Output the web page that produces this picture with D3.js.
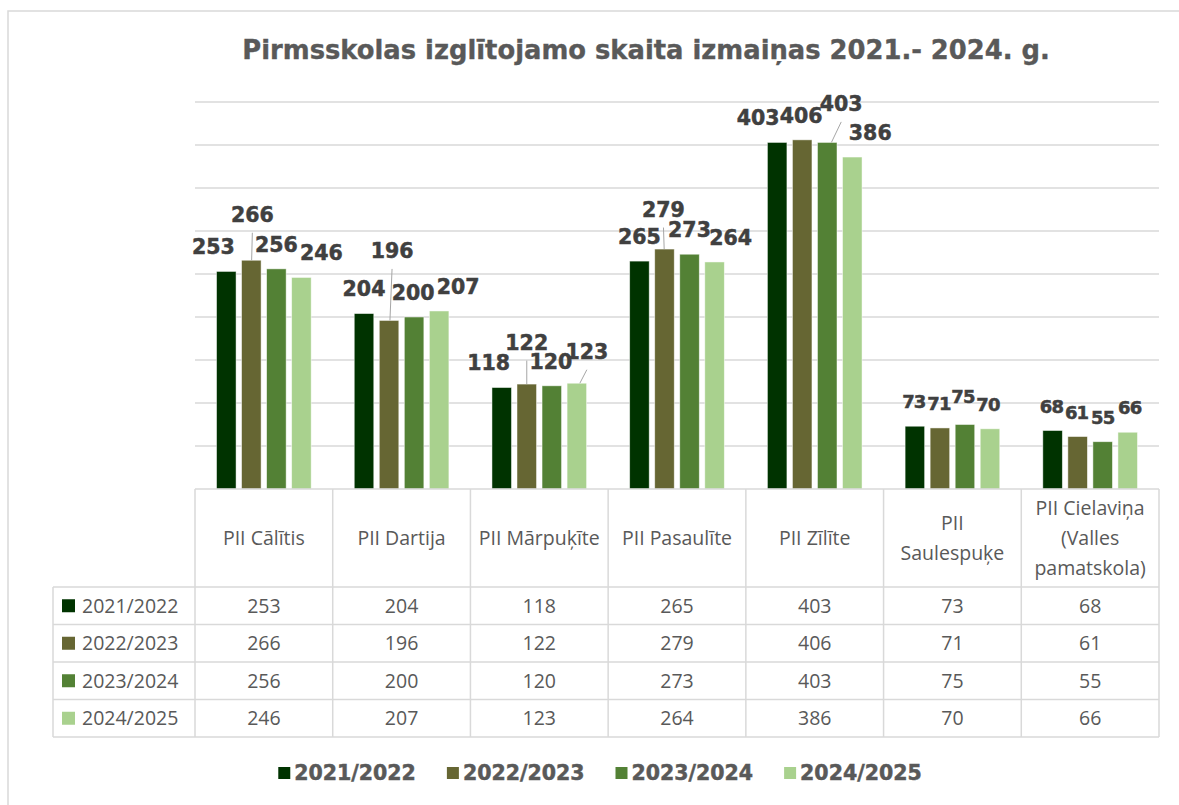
<!DOCTYPE html>
<html lang="lv">
<head>
<meta charset="utf-8">
<title>Pirmsskolas izglītojamo skaita izmaiņas</title>
<script src="https://cdn.jsdelivr.net/npm/d3@7"></script>
<style>
  html, body { margin: 0; padding: 0; background: #fff; }
  svg { display: block; }
</style>
</head>
<body>
<script>
// --- data -------------------------------------------------------------
const categories = ["PII Cālītis", "PII Dartija", "PII Mārpuķīte", "PII Pasaulīte",
  "PII Zīlīte", "PII Saulespuķe", "PII Cielaviņa (Valles pamatskola)"];
// category names as they wrap in the table header
const headerLines = [["PII Cālītis"], ["PII Dartija"], ["PII Mārpuķīte"], ["PII Pasaulīte"],
  ["PII Zīlīte"], ["PII", "Saulespuķe"], ["PII Cielaviņa", "(Valles", "pamatskola)"]];
const seriesNames = ["2021/2022", "2022/2023", "2023/2024", "2024/2025"];
const values2122 = [253, 204, 118, 265, 403, 73, 68];
const values2223 = [266, 196, 122, 279, 406, 71, 61];
const values2324 = [256, 200, 120, 273, 403, 75, 55];
const values2425 = [246, 207, 123, 264, 386, 70, 66];
const seriesValues = [values2122, values2223, values2324, values2425];
const title = "Pirmsskolas izglītojamo skaita izmaiņas 2021.- 2024. g.";

// --- look -------------------------------------------------------------
const colors = ["#003300", "#666633", "#538135", "#A9D18E"];
// hand-moved data labels (dx, dy in px) and which ones got a leader line
const labelNudge = [
  [[-13, 0], [0, 0], [-13, 0], [0, 0], [-19, 0], [-1, 0], [-1, 0]],
  [[1, -21], [3, -45], [0, -17], [-1, -15], [-1, 0], [-1, 0], [-1, 0]],
  [[0, 0], [-1, 0], [-1, 0], [0, 0], [14, -14], [-2, -3], [0, 0]],
  [[20, 0], [19, 0], [10, -7], [16, 0], [18, 0], [-2, 0], [2, 0]]
];
const leaders = [[], [0, 1, 2, 3], [4], [2]];

const W = 1179, H = 805;
const plot = { left: 195, right: 1159, top: 102, bottom: 489 };
const headerBottom = 587, rowH = 37.5, tableLeft = 53;
const gridColor = "#D9D9D9";
const textGray = "#595959";
const heavy = "'DejaVu Sans', sans-serif";
const body = "'Open Sans', 'Noto Sans', sans-serif";

const svg = d3.select("body").append("svg")
  .attr("width", W).attr("height", H);

// chart area frame
svg.append("rect")
  .attr("x", 8).attr("y", 11).attr("width", W + 20).attr("height", H + 20)
  .attr("fill", "none").attr("stroke", gridColor).attr("stroke-width", 1.5);

// title, fitted to the width it has in the original
const t = svg.append("text")
  .attr("x", 646).attr("y", 59)
  .attr("text-anchor", "middle")
  .attr("font-family", heavy).attr("font-weight", "bold")
  .attr("font-size", 24).attr("fill", textGray)
  .attr("stroke", textGray).attr("stroke-width", 0.35)
  .text(title);
const tl = t.node().getComputedTextLength();
t.attr("font-size", 24 * 808 / tl);

// --- scales -------------------------------------------------------------
const x = d3.scaleBand().domain(categories).range([plot.left, plot.right]);
const xs = d3.scaleBand().domain(seriesNames).range([0, x.bandwidth()])
  .paddingInner(0.22).paddingOuter(0.86);
const y = d3.scaleLinear().domain([0, 450]).range([plot.bottom, plot.top]);

// gridlines
svg.append("g")
  .selectAll("line")
  .data(y.ticks(9).filter(d => d > 0))
  .join("line")
  .attr("x1", plot.left).attr("x2", plot.right)
  .attr("y1", d => y(d)).attr("y2", d => y(d))
  .attr("stroke", gridColor).attr("stroke-width", 1.5);

// bars
const rows = seriesNames.map((s, i) => categories.map((c, j) => ({
  series: s, si: i, cat: c, ci: j, value: seriesValues[i][j]
})));
const flat = rows.flat();

svg.append("g")
  .selectAll("rect")
  .data(flat)
  .join("rect")
  .attr("x", d => x(d.cat) + xs(d.series))
  .attr("y", d => y(d.value))
  .attr("width", xs.bandwidth())
  .attr("height", d => y(0) - y(d.value))
  .attr("fill", d => colors[d.si])
  .attr("stroke", "#ffffff").attr("stroke-opacity", 0.6).attr("stroke-width", 0.8);

// data labels
const cx = d => x(d.cat) + xs(d.series) + xs.bandwidth() / 2;
const ly = d => y(d.value) - 24.5 + labelNudge[d.si][d.ci][1];

svg.append("g")
  .selectAll("line")
  .data(flat.filter(d => leaders[d.si].includes(d.ci)))
  .join("line")
  .attr("x1", d => cx(d) + labelNudge[d.si][d.ci][0] * 0.3)
  .attr("y1", d => y(d.value))
  .attr("x2", d => cx(d) + labelNudge[d.si][d.ci][0])
  .attr("y2", d => ly(d) + 18)
  .attr("stroke", "#A6A6A6").attr("stroke-width", 1);

svg.append("g")
  .attr("font-family", heavy).attr("font-weight", "bold")
  .attr("fill", "#404040")
  .attr("stroke", "#404040").attr("stroke-width", 0.5)
  .attr("text-anchor", "middle")
  .selectAll("text")
  .data(flat)
  .join("text")
  .attr("font-size", d => d.value < 100 ? 18 : 20.5)
  .attr("letter-spacing", d => d.value < 100 ? -0.8 : 0)
  .attr("x", d => cx(d) + labelNudge[d.si][d.ci][0])
  .attr("y", ly)
  .attr("dy", "0.36em")
  .text(d => d.value);

// --- data table ---------------------------------------------------------
const table = svg.append("g")
  .attr("stroke", gridColor).attr("stroke-width", 1.5);
const tableBottom = headerBottom + rowH * seriesNames.length;

// top border = category axis line
table.append("line")
  .attr("x1", plot.left).attr("x2", plot.right)
  .attr("y1", plot.bottom).attr("y2", plot.bottom);
// row lines
table.selectAll(".row")
  .data(d3.range(seriesNames.length + 1))
  .join("line")
  .attr("x1", tableLeft).attr("x2", plot.right)
  .attr("y1", i => headerBottom + i * rowH).attr("y2", i => headerBottom + i * rowH);
// column lines
table.selectAll(".col")
  .data([...categories.map(c => x(c)), plot.right])
  .join("line")
  .attr("x1", d => d).attr("x2", d => d)
  .attr("y1", plot.bottom).attr("y2", tableBottom);
table.append("line")
  .attr("x1", tableLeft).attr("x2", tableLeft)
  .attr("y1", headerBottom).attr("y2", tableBottom);

const tText = svg.append("g")
  .attr("font-family", body).attr("font-size", 19.5).attr("fill", textGray);

// header
const head = tText.selectAll(".head")
  .data(categories)
  .join("text")
  .attr("text-anchor", "middle")
  .attr("x", c => x(c) + x.bandwidth() / 2);
head.selectAll("tspan")
  .data((c, j) => headerLines[j].map((line, k, arr) => ({ line, k, n: arr.length })))
  .join("tspan")
  .attr("x", function () { return this.parentNode.getAttribute("x"); })
  .attr("y", d => 538 + (d.k - (d.n - 1) / 2) * 30)
  .attr("dy", "0.35em")
  .text(d => d.line);

// rows
seriesNames.forEach((s, i) => {
  const cyRow = headerBottom + i * rowH + rowH / 2;
  svg.append("rect")
    .attr("x", 62).attr("y", cyRow - 6.5)
    .attr("width", 13).attr("height", 13)
    .attr("fill", colors[i]);
  tText.append("text")
    .attr("x", 82).attr("y", cyRow).attr("dy", "0.35em")
    .text(s);
  tText.selectAll(".v" + i)
    .data(rows[i])
    .join("text")
    .attr("text-anchor", "middle")
    .attr("x", d => x(d.cat) + x.bandwidth() / 2)
    .attr("y", cyRow).attr("dy", "0.35em")
    .text(d => d.value);
});

// --- legend -------------------------------------------------------------
const legend = svg.append("g");
const items = legend.selectAll("g")
  .data(seriesNames)
  .join("g");
items.append("rect")
  .attr("width", 12).attr("height", 12).attr("y", 767)
  .attr("fill", (d, i) => colors[i]);
items.append("text")
  .attr("x", 16).attr("y", 773).attr("dy", "0.36em")
  .attr("font-family", heavy).attr("font-weight", "bold")
  .attr("font-size", 20.5).attr("fill", textGray)
  .attr("stroke", textGray).attr("stroke-width", 0.5)
  .text(d => d);

let widths = items.nodes().map(n => 16 + n.querySelector("text").getComputedTextLength());
const gap = 31;
const total = d3.sum(widths) + gap * (widths.length - 1);
let pos = 600 - total / 2;
items.attr("transform", (d, i) => {
  const p = pos;
  pos += widths[i] + gap;
  return `translate(${p},0)`;
});
</script>
</body>
</html>
